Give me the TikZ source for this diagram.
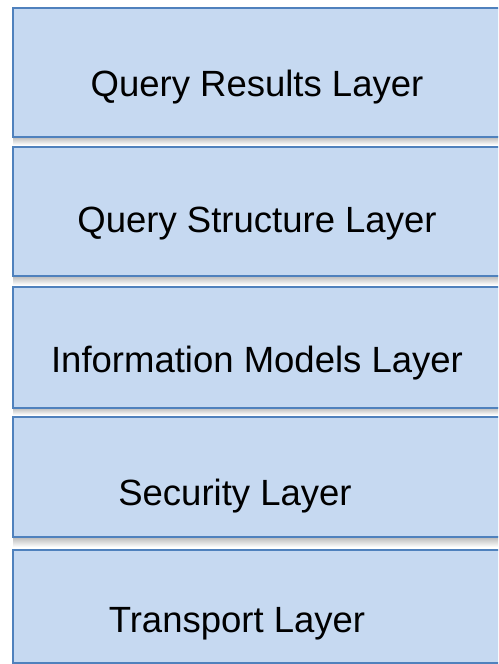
\documentclass[tikz,border=0pt]{standalone}
\usepackage{fontspec}
\setmainfont{Liberation Sans}
\definecolor{boxfill}{HTML}{C6D9F1}
\definecolor{boxline}{HTML}{4F81BD}
\tikzset{
  layerbox/.style={draw=boxline, fill=boxfill, line width=2pt, anchor=north west, inner sep=0pt, minimum width=500pt},
  layertext/.style={anchor=base, font=\fontsize{36.5}{40}\selectfont, inner sep=0pt, text=black},
  boxshadow/.style={top color=gray!60, bottom color=white}
}
\begin{document}
\begin{tikzpicture}[x=1pt,y=-1pt]
\useasboundingbox (0,0) rectangle (498,664);
\fill[white] (0,0) rectangle (498,664);
\clip (0,0) rectangle (498,664);
% shadows
\shade[boxshadow] (13,136) rectangle (512,145);
\shade[boxshadow] (13,275) rectangle (512,285);
\shade[boxshadow] (13,407) rectangle (512,415);
\shade[boxshadow] (13,536) rectangle (512,547);
% boxes
\node[layerbox, minimum height=129pt] (b1) at (12,7) {};
\node[layerbox, minimum height=129pt] (b2) at (12,146) {};
\node[layerbox, minimum height=121pt] (b3) at (12,286) {};
\node[layerbox, minimum height=120pt] (b4) at (12,416) {};
\node[layerbox, minimum height=113pt] (b5) at (12,549) {};
% texts
\node[layertext] (t1) at (257,96) {Query Results Layer};
\node[layertext] (t2) at (257,232) {Query Structure Layer};
\node[layertext] (t3) at (257,372) {Information Models Layer};
\node[layertext] (t4) at (235,505) {Security Layer};
\node[layertext] (t5) at (237,632) {Transport Layer};
\end{tikzpicture}
\end{document}
